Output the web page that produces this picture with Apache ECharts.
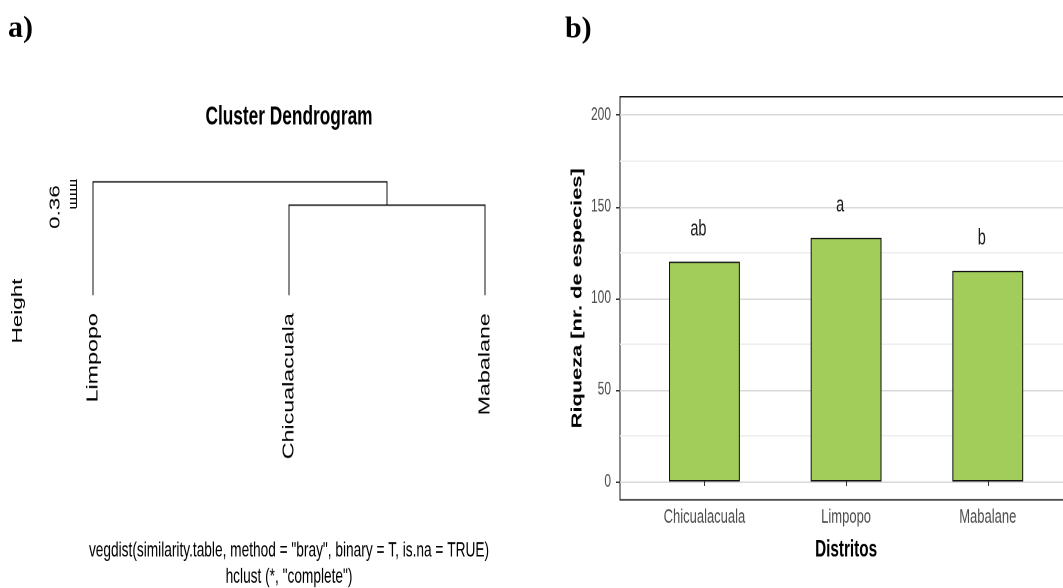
<!DOCTYPE html>
<html>
<head>
<meta charset="utf-8">
<title>Dendrograma y riqueza por distrito</title>
<script src="https://cdn.jsdelivr.net/npm/echarts@6/dist/echarts.min.js"></script>
<style>
  html, body { margin: 0; padding: 0; background: #fff; width: 1063px; height: 588px; }
  #page { position: relative; width: 1063px; height: 588px; overflow: hidden; }
  /* the figure is drawn at 2/3 height and stretched vertically */
  #chart { position: absolute; left: 0; top: 0; width: 1063px; height: 392px;
           transform: scaleY(1.5); transform-origin: 0 0; }
</style>
</head>
<body>
<div id="page"><div id="chart"></div></div>
<script>
// ---- a) cluster dendrogram (hclust, complete linkage) ----
const leaves = ['Limpopo', 'Chicualacuala', 'Mabalane'];
const mergePairs = [[-2, -3], [-1, 1]];      // R convention: negative = leaf, positive = earlier merge
const mergeHeights = [0.362, 0.388];
const leafHang = 0.262;                      // level where the leaf branches end
const heightTickRange = [0.36, 0.39];
const heightTickStep = 0.005;
const heightTickLabels = ['0.36'];

// ---- b) species richness per district ----
const districts = ['Chicualacuala', 'Limpopo', 'Mabalane'];
const richness = [120, 133, 115];
const groupLetters = ['ab', 'a', 'b'];
const richnessTickRange = [0, 200];
const richnessTickStep = 50;

const STRETCH = 1.5;
const v = px => px / STRETCH;               // figure pixels -> canvas units (vertical)
const SANS = '"Liberation Sans", Arial, sans-serif';
const SERIF = '"Liberation Serif", "Times New Roman", serif';

// node positions of the dendrogram
const mergeX = [];
function nodePos(id) {
  return id < 0 ? [-id, leafHang] : [mergeX[id - 1], mergeHeights[id - 1]];
}
const branches = mergePairs.map((pair, k) => {
  const a = nodePos(pair[0]);
  const b = nodePos(pair[1]);
  mergeX[k] = (a[0] + b[0]) / 2;
  return [a[0], a[1], b[0], b[1], mergeHeights[k]];
});

const chart = echarts.init(document.getElementById('chart'), null, { devicePixelRatio: 2 });

const hiddenAxis = (gridIndex, extra) => Object.assign({ type: 'value', gridIndex, show: false }, extra || {});
const panel = box => Object.assign({ outerBoundsMode: 'none', containLabel: false }, box);

const option = {
  animation: false,
  backgroundColor: '#fff',
  grid: [
    // 0: dendrogram branches
    panel({ left: 93, width: 392, top: v(180), height: v(117) }),
    // 1: height axis
    panel({ left: 76, width: 1, top: v(180), height: v(27) }),
    // 2: panel frame of b) (its right edge lies past the canvas)
    panel({ left: 620, width: 453, top: v(96.7), height: v(403.1), show: true,
      borderColor: '#1a1a1a', borderWidth: 1, backgroundColor: 'transparent' }),
    // 3: richness axis, gridlines
    panel({ left: 620, width: 453, top: v(115), height: v(366.5) }),
    // 4: bars
    panel({ left: 633.6, width: 425, top: v(96.7), height: v(403.1) })
  ],
  xAxis: [
    hiddenAxis(0, { min: 1, max: 3 }),
    hiddenAxis(1, { min: 0, max: 1 }),
    hiddenAxis(2, { min: 0, max: 1 }),
    hiddenAxis(3, { min: 0, max: 1 }),
    {
      type: 'category', gridIndex: 4, data: districts,
      axisLine: { show: false },
      axisTick: { show: true, alignWithLabel: true, length: 3, lineStyle: { color: '#333', width: 1 } },
      axisLabel: { color: '#4d4d4d', fontSize: 13, fontFamily: SANS, margin: 5 },
      name: 'Distritos', nameLocation: 'middle', nameGap: 26,
      nameTextStyle: { color: '#000', fontSize: 15.3, fontWeight: 'bold', fontFamily: SANS }
    }
  ],
  yAxis: [
    hiddenAxis(0, { min: 0.26, max: 0.39 }),
    {
      type: 'value', gridIndex: 1,
      min: heightTickRange[0], max: heightTickRange[1], interval: heightTickStep,
      axisLine: { show: true, lineStyle: { color: '#111', width: 1 } },
      axisTick: { show: true, length: 6, lineStyle: { color: '#111', width: 1 } },
      splitLine: { show: false },
      axisLabel: {
        rotate: 90, margin: 13, color: '#000', fontSize: 15, fontFamily: SANS,
        formatter: val => {
          const hit = heightTickLabels.find(t => Math.abs(parseFloat(t) - val) < 1e-9);
          return hit || '';
        }
      }
    },
    hiddenAxis(2, { min: 0, max: 1 }),
    {
      type: 'value', gridIndex: 3,
      min: richnessTickRange[0], max: richnessTickRange[1], interval: richnessTickStep,
      axisLine: { show: false },
      axisTick: { show: true, length: 4, lineStyle: { color: '#333', width: 1 } },
      axisLabel: { color: '#4d4d4d', fontSize: 12, fontFamily: SANS, margin: 9 },
      splitLine: { show: true, lineStyle: { color: '#d9d9d9', width: 1 } },
      minorTick: { show: false, splitNumber: 2 },
      minorSplitLine: { show: true, lineStyle: { color: '#eeeeee', width: 1 } },
      name: 'Riqueza [nr. de especies]', nameLocation: 'middle', nameGap: 35,
      nameTextStyle: { color: '#000', fontSize: 14.5, fontWeight: 'bold', fontFamily: SANS }
    },
    hiddenAxis(4, { min: -10, max: 210 })
  ],
  series: [
    {
      // dendrogram branches
      type: 'custom', xAxisIndex: 0, yAxisIndex: 0, data: branches, clip: false, silent: true,
      renderItem: (params, api) => {
        const p1 = api.coord([api.value(0), api.value(1)]);
        const p2 = api.coord([api.value(0), api.value(4)]);
        const p3 = api.coord([api.value(2), api.value(4)]);
        const p4 = api.coord([api.value(2), api.value(3)]);
        return {
          type: 'polyline',
          shape: { points: [p1, p2, p3, p4] },
          style: { stroke: '#111', lineWidth: 1, fill: null }
        };
      }
    },
    {
      // leaf labels
      type: 'custom', xAxisIndex: 0, yAxisIndex: 0, clip: false, silent: true,
      data: leaves.map((name, i) => [i + 1, leafHang]),
      renderItem: (params, api) => {
        const p = api.coord([api.value(0), api.value(1)]);
        return {
          type: 'text', x: p[0], y: p[1] + v(18), rotation: Math.PI / 2,
          style: {
            text: leaves[params.dataIndex], fill: '#000',
            font: '15.5px ' + SANS,
            align: 'right', verticalAlign: 'middle',
            textAlign: 'right', textVerticalAlign: 'middle'
          }
        };
      }
    },
    {
      type: 'bar', xAxisIndex: 4, yAxisIndex: 4, data: richness, barWidth: '50%',
      itemStyle: { color: '#a3cd5b', borderColor: '#111', borderWidth: 1 },
      label: {
        show: true, position: 'top', distance: 14, offset: [-6, 0],
        formatter: p => groupLetters[p.dataIndex],
        color: '#1a1a1a', fontSize: 14.5, fontFamily: SANS
      },
      silent: true
    }
  ],
  graphic: [
    {
      type: 'text', x: 8, y: v(29), scaleY: 1 / STRETCH,
      style: { text: 'a)', fill: '#000', font: 'bold 30px ' + SERIF,
        align: 'left', verticalAlign: 'middle', textAlign: 'left', textVerticalAlign: 'middle' }
    },
    {
      type: 'text', x: 565, y: v(30), scaleY: 1 / STRETCH,
      style: { text: 'b)', fill: '#000', font: 'bold 30px ' + SERIF,
        align: 'left', verticalAlign: 'middle', textAlign: 'left', textVerticalAlign: 'middle' }
    },
    {
      type: 'text', x: 289, y: v(117.5),
      style: { text: 'Cluster Dendrogram', fill: '#000', font: 'bold 17.3px ' + SANS,
        align: 'center', verticalAlign: 'middle', textAlign: 'center', textVerticalAlign: 'middle' }
    },
    {
      type: 'text', x: 18, y: v(311), rotation: Math.PI / 2,
      style: { text: 'Height', fill: '#000', font: '15px ' + SANS,
        align: 'center', verticalAlign: 'middle', textAlign: 'center', textVerticalAlign: 'middle' }
    },
    {
      type: 'text', x: 289, y: v(551),
      style: { text: 'vegdist(similarity.table, method = "bray", binary = T, is.na = TRUE)', fill: '#000',
        font: '13.7px ' + SANS,
        align: 'center', verticalAlign: 'middle', textAlign: 'center', textVerticalAlign: 'middle' }
    },
    {
      type: 'text', x: 289, y: v(577),
      style: { text: 'hclust (*, "complete")', fill: '#000', font: '13.7px ' + SANS,
        align: 'center', verticalAlign: 'middle', textAlign: 'center', textVerticalAlign: 'middle' }
    }
  ]
};

chart.setOption(option);
</script>
</body>
</html>
